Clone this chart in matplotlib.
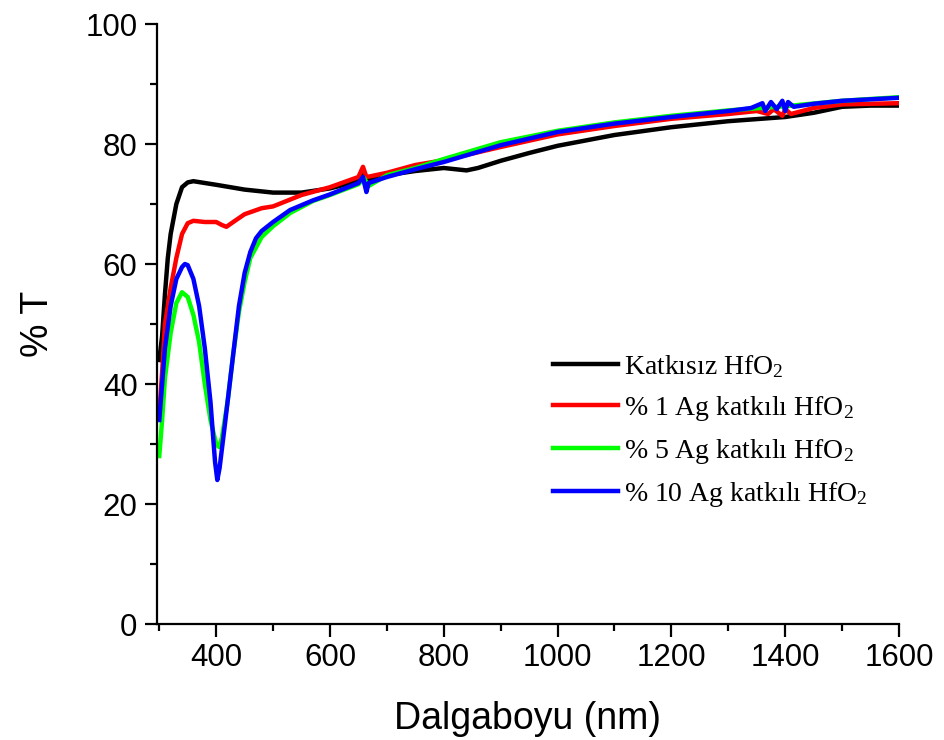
import matplotlib
matplotlib.use("Agg")
import matplotlib.pyplot as plt
from matplotlib.ticker import MultipleLocator

plt.rcParams['mathtext.default'] = 'regular'

labels = ['Katkısız HfO$_2$', '% 1 Ag katkılı HfO$_2$',
          '% 5 Ag katkılı HfO$_2$', '% 10 Ag katkılı HfO$_2$']
colors = ['#000000', '#ff0000', '#00ff00', '#0000ff']

wl_undoped = [300, 305, 310, 315, 320, 330, 340, 350, 360, 380, 400, 450, 500, 550, 600,
              650, 658, 662, 670, 700, 750, 800, 840, 860, 900, 950, 1000, 1100, 1200,
              1300, 1400, 1450, 1500, 1550, 1600]
T_undoped = [44, 48, 55, 61, 65, 70, 72.8, 73.6, 73.8, 73.5, 73.2, 72.4, 71.9, 71.9, 72.6,
             73.8, 75.5, 73, 74.2, 74.8, 75.5, 76, 75.6, 76, 77.2, 78.5, 79.7, 81.5, 82.8,
             83.8, 84.5, 85.2, 86.2, 86.4, 86.4]

wl_ag1 = [300, 305, 310, 320, 330, 340, 350, 360, 380, 400, 410, 418, 430, 450, 480, 500,
          550, 600, 650, 658, 664, 670, 700, 750, 800, 900, 1000, 1100, 1200, 1300, 1350,
          1370, 1380, 1395, 1400, 1410, 1450, 1500, 1600]
T_ag1 = [35, 42, 50, 56, 61, 65, 66.8, 67.2, 67, 67, 66.5, 66.2, 67, 68.3, 69.3, 69.6,
         71.5, 72.8, 74.5, 76.2, 74.5, 74.6, 75.2, 76.5, 77.3, 79.5, 81.6, 83, 84.2, 85, 85.5,
         85, 85.8, 84.7, 85.8, 85, 86, 86.6, 86.8]

wl_ag5 = [300, 305, 310, 320, 330, 340, 350, 360, 370, 380, 390, 400, 405, 410, 420, 430,
          440, 450, 460, 480, 500, 530, 570, 600, 650, 660, 668, 700, 750, 800, 900, 1000,
          1100, 1200, 1300, 1400, 1500, 1600]
T_ag5 = [28, 34, 41, 48.5, 53.5, 55.3, 54.5, 51.5, 47, 40, 34, 30, 29.5, 31, 37, 45,
         52, 57, 61, 64.5, 66.3, 68.5, 70.5, 71.5, 73.3, 74.3, 73, 74.8, 76, 77.5, 80.3, 82.2,
         83.6, 84.7, 85.6, 86.3, 87.2, 87.8]

wl_ag10 = [300, 305, 310, 320, 330, 340, 345, 350, 360, 370, 380, 390, 398, 402, 406, 415,
           425, 440, 450, 460, 470, 480, 500, 530, 570, 600, 650, 658, 664, 668, 700, 750,
           800, 900, 1000, 1100, 1200, 1300, 1340, 1360, 1365, 1375, 1385, 1395, 1400, 1405,
           1415, 1450, 1500, 1600]
T_ag10 = [34, 40, 46, 53, 57.5, 59.5, 60, 59.8, 57.5, 53, 46, 37, 27, 24, 26, 33,
          41, 53, 58.5, 62, 64.3, 65.5, 67, 69, 70.6, 71.6, 73.5, 74.5, 72, 73.5, 74.5, 75.8,
          77, 79.8, 82, 83.4, 84.5, 85.5, 86, 86.8, 85.5, 87, 85.8, 87.2, 85.5, 87,
          86.2, 86.7, 87.2, 87.7]

series = [(wl_undoped, T_undoped), (wl_ag1, T_ag1), (wl_ag5, T_ag5), (wl_ag10, T_ag10)]

x_ticks = [400, 600, 800, 1000, 1200, 1400, 1600]
y_ticks = [0, 20, 40, 60, 80, 100]

fig = plt.figure(figsize=(9.45, 7.4), dpi=100)
ax = fig.add_axes([157/945, 1-624/740, (899-157)/945, 600/740])

lines = []
for (wl, T), c, lab in zip(series, colors, labels):
    ln, = ax.plot(wl, T, color=c, lw=3.2, label=lab)
    lines.append(ln)

ax.set_xlim(296, 1600)
ax.set_ylim(0, 100)
ax.set_xticks(x_ticks)
ax.set_yticks(y_ticks)
ax.xaxis.set_minor_locator(MultipleLocator(100))
ax.yaxis.set_minor_locator(MultipleLocator(10))
for s in ['top', 'right']:
    ax.spines[s].set_visible(False)
for s in ['left', 'bottom']:
    ax.spines[s].set_linewidth(1.6)
ax.tick_params(which='major', direction='out', length=9, width=1.6,
               labelsize=22.5, pad=5)
ax.tick_params(which='minor', direction='out', length=5, width=1.6)
for t in ax.get_xticklabels() + ax.get_yticklabels():
    t.set_fontfamily('Liberation Sans')

ax.set_xlabel('Dalgaboyu (nm)', fontsize=27, family='Liberation Sans', labelpad=20)
ax.set_ylabel('% T', fontsize=27, family='Liberation Sans', labelpad=21)

leg = fig.legend(handles=lines, loc='upper left',
                 bbox_to_anchor=(553/945, 1-353/740),
                 frameon=False, prop={'family': 'Liberation Serif', 'size': 20},
                 handlelength=2.35, handletextpad=0.2, labelspacing=0.5,
                 borderpad=0, borderaxespad=0)
for l in leg.get_lines():
    l.set_linewidth(3.2)

fig.savefig('out.png', dpi=100)
